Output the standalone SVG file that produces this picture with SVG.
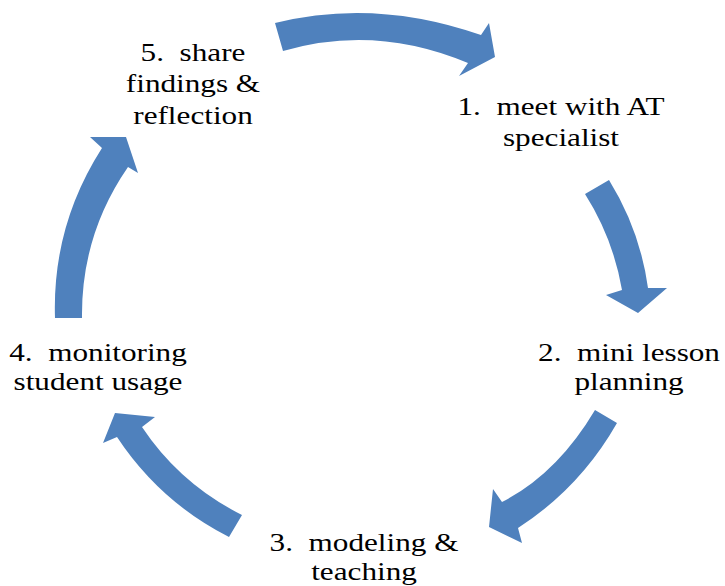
<svg xmlns="http://www.w3.org/2000/svg" width="725" height="586" viewBox="0 0 725 586">
  <style>
    .arrow { fill: #4f81bd; }
    .label { font-family: "Liberation Serif", "Times New Roman", serif; font-size: 26px; fill: #000; text-anchor: middle; }
  </style>
  <rect width="725" height="586" fill="#ffffff"/>

  <!-- curved block arrows of the cycle -->
  <g id="connectors">
    <path class="arrow" d="M275,23 Q375,-2 481,35 L489,23 L495,57 L459,76 L468,63 Q375,24 283,51 Z"/>
    <path class="arrow" d="M585,194 L609,180 Q640,230 648,288 L667,288 L638,313 L606,295 L622,290 Q613,238 585,194 Z"/>
    <path class="arrow" d="M595,410 L617,423 Q580,488 518,528 L522,543 L489,527 L493,489 L502,502 Q557,474 595,410 Z"/>
    <path class="arrow" d="M242,515 Q180,484 142,427 L155,417 L115,413 L103,443 L117,437 Q160,502 229,537 Z"/>
    <path class="arrow" d="M55,318 Q52,226 102,148 L90,137 L126,137 L138,173 L128,167 Q81,235 82,318 Z"/>
  </g>

  <!-- step labels (text widened 1.2x horizontally) -->
  <g id="step1">
    <text class="label" xml:space="preserve" transform="translate(561 0) scale(1.2 1)"><tspan x="0" y="115">1.  meet with AT</tspan><tspan x="0" y="146">specialist</tspan></text>
  </g>
  <g id="step2">
    <text class="label" xml:space="preserve" transform="translate(629 0) scale(1.2 1)"><tspan x="0" y="361">2.  mini lesson</tspan><tspan x="0" y="390">planning</tspan></text>
  </g>
  <g id="step3">
    <text class="label" xml:space="preserve" transform="translate(364 0) scale(1.2 1)"><tspan x="0" y="551">3.  modeling &amp;</tspan><tspan x="0" y="580">teaching</tspan></text>
  </g>
  <g id="step4">
    <text class="label" xml:space="preserve" transform="translate(98 0) scale(1.2 1)"><tspan x="0" y="361">4.  monitoring</tspan><tspan x="0" y="390">student usage</tspan></text>
  </g>
  <g id="step5">
    <text class="label" xml:space="preserve" transform="translate(193 0) scale(1.2 1)"><tspan x="0" y="61">5.  share</tspan><tspan x="0" y="92.5">findings &amp;</tspan><tspan x="0" y="124">reflection</tspan></text>
  </g>
</svg>
